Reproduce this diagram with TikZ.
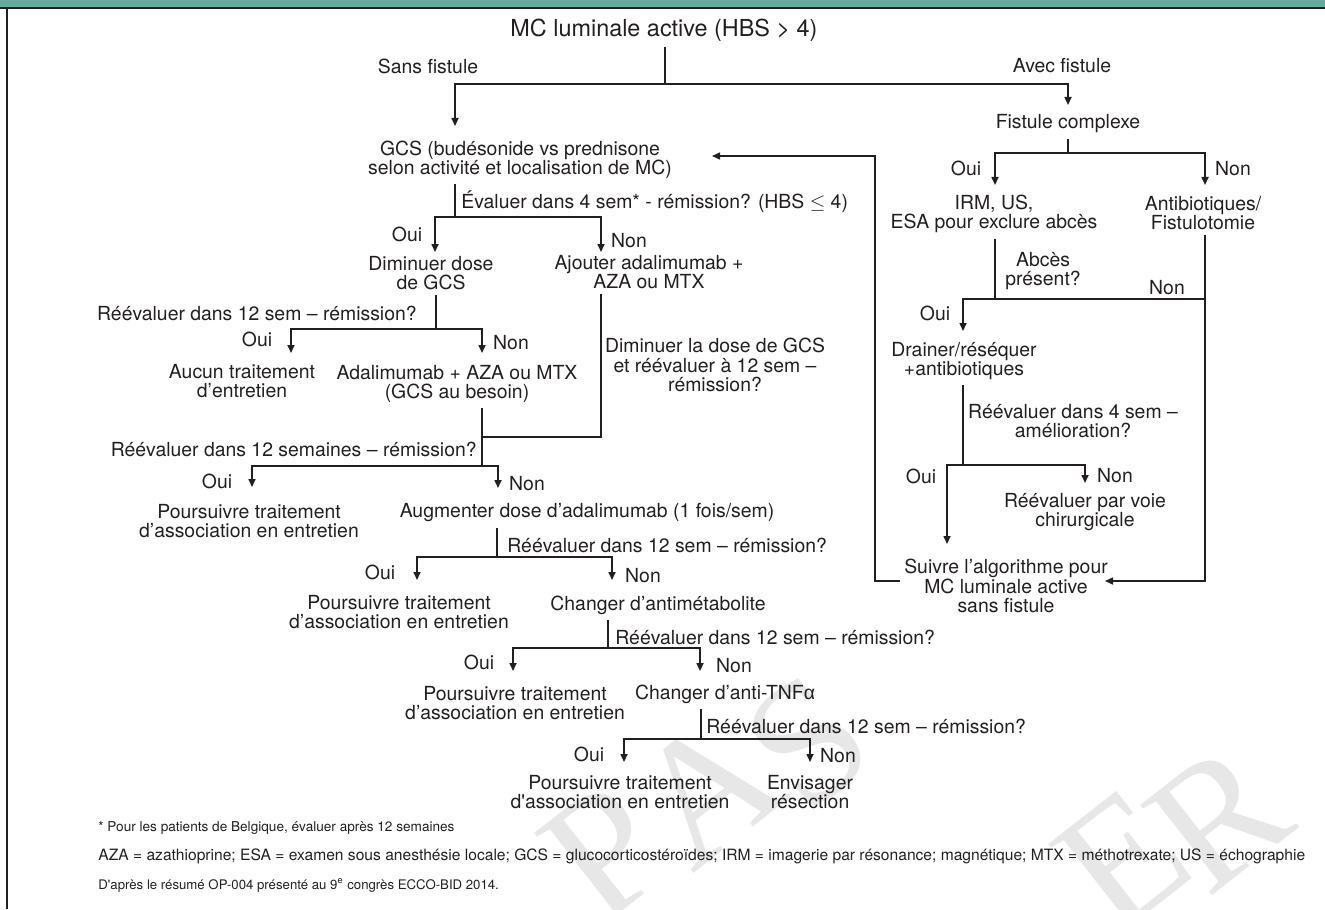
\documentclass[tikz,border=0pt]{standalone}
\usepackage{fontspec}
\setmainfont{TeX Gyre Heros}
\newfontfamily\fondfont{Liberation Serif}
\newfontfamily\grecfont{Liberation Sans}
\usetikzlibrary{arrows.meta}

\definecolor{bandeau}{HTML}{68ACA0}
\definecolor{encre}{HTML}{231F20}
\definecolor{filigrane}{HTML}{E7E7E7}

\newcommand{\txttitre}{\fontsize{11.7}{12}\selectfont}
\newcommand{\txtcorps}{\fontsize{9.7}{9.75}\selectfont}
\newcommand{\txtnote}{\fontsize{6.8}{7}\selectfont}
\newcommand{\txtfil}{\fondfont\fontsize{88}{88}\selectfont}

\begin{document}
\begin{tikzpicture}[x=0.5pt, y=-0.5pt,
	texte/.style={font=\txtcorps, text=encre, align=center, inner sep=0pt},
	lien/.style={draw=encre, line width=0.8pt},
	depart/.style={lien, shorten <=2.5pt},
	fleche/.style={lien, -{Triangle[length=4pt,width=3.5pt]}},
	fil/.style={font=\txtfil, text=filigrane, rotate=38, inner sep=0pt}]

\useasboundingbox (0,0) rectangle (1325,909);

% Filigrane
\begin{scope}
	\clip (0,0) rectangle (1325,909);
	\foreach \nom/\x/\y/\lettre in {filP/605/852/P, filA/707/790/A, filS/808/742/S, filE/1122/860/E, filR/1218/818/R}
		\node[fil] (\nom) at (\x,\y) {\lettre};
\end{scope}

% Cadre
\fill[bandeau] (0,0) rectangle (1325,7.5);
\draw[lien] (0,8) -- (1325,8);
\draw[lien] (7,8) -- (7,909);

% Tronc commun
\node[texte, font=\txttitre] (titre) at (664,30) {MC luminale active (HBS > 4)};
\node[texte] (sans) at (428,66) {Sans fistule};
\node[texte] (avec) at (1062,66) {Avec fistule};

% Branche sans fistule
\node[texte] (gcs) at (520,160) {GCS (budésonide vs prednisone\\selon activité et localisation de MC)};
\node[texte, anchor=west] (eval) at (461,202) {Évaluer dans 4 sem* - rémission? (HBS $\leq$ 4)};
\node[texte] (dimin) at (431,273) {Diminuer dose\\de GCS};
\node[texte] (ajout) at (649,272) {Ajouter adalimumab +\\AZA ou MTX};
\node[texte, anchor=east] (reev1) at (417,313) {Réévaluer dans 12 sem – rémission?};
\node[texte] (aucun) at (242,381) {Aucun traitement\\d’entretien};
\node[texte] (adal) at (457,384) {Adalimumab + AZA ou MTX\\(GCS au besoin)};
\node[texte] (dimin2) at (715,365) {Diminuer la dose de GCS\\et réévaluer à 12 sem –\\rémission?};
\node[texte, anchor=east] (reev2) at (477,449) {Réévaluer dans 12 semaines – rémission?};
\node[texte] (pours1) at (249,521) {Poursuivre traitement\\d’association en entretien};
\node[texte] (augm) at (587,513) {Augmenter dose d’adalimumab (1 fois/sem)};
\node[texte, anchor=west] (reev3) at (507,545) {Réévaluer dans 12 sem – rémission?};
\node[texte] (pours2) at (399,612) {Poursuivre traitement\\d’association en entretien};
\node[texte] (chang1) at (658,605) {Changer d’antimétabolite};
\node[texte, anchor=west] (reev4) at (615,637) {Réévaluer dans 12 sem – rémission?};
\node[texte] (pours3) at (515,703) {Poursuivre traitement\\d’association en entretien};
\node[texte] (chang2) at (725,694) {Changer d’anti-TNF{\grecfont α}};
\node[texte, anchor=west] (reev5) at (706,726) {Réévaluer dans 12 sem – rémission?};
\node[texte] (pours4) at (620,792) {Poursuivre traitement\\d\textquotesingle association en entretien};
\node[texte] (envis) at (810,792) {Envisager\\résection};

% Branche avec fistule
\node[texte] (fistc) at (1068,124) {Fistule complexe};
\node[texte] (irm) at (994,214) {IRM, US,\\ESA pour exclure abcès};
\node[texte] (antib) at (1203,213) {Antibiotiques/\\Fistulotomie};
\node[texte] (abces) at (1043,271) {Abcès\\présent?};
\node[texte] (drain) at (964,361) {Drainer/réséquer\\+antibiotiques};
\node[texte] (reevR) at (1073,421) {Réévaluer dans 4 sem –\\amélioration?};
\node[texte] (chir) at (1085,512) {Réévaluer par voie\\chirurgicale};
\node[texte] (suivre) at (1006,586) {Suivre l’algorithme pour\\MC luminale active\\sans fistule};

% Oui / Non
\foreach \nom/\x/\y/\mot in {oui1/407/234/Oui, non1/629/241/Non, oui2/257/339/Oui, non2/511/343/Non,
	oui3/217/481/Oui, non3/527/484/Non, oui4/380/572/Oui, non4/643/576/Non,
	oui5/479/662/Oui, non5/734/666/Non, oui6/589/754/Oui, non6/838/756/Non,
	ouiR1/966/168/Oui, nonR1/1233/169/Non, nonR2/1167/288/Non, ouiR2/935/313/Oui,
	ouiR3/921/476/Oui, nonR3/1115/476/Non}
	\node[texte] (\nom) at (\x,\y) {\mot};

% Jonctions et pointes
\foreach \nom/\x/\y in {j0/665/84, pgcs/455/126, pfc/1068/105,
	j1/455/217, pdim/435/252, paj/601/252,
	j2/436/329, pauc/291/353, pada/482/353, jm/482/437,
	j3/482/466, ppo1/252/487, paug/498/488,
	j4/497/557, ppo2/417/580, pch1/612/580,
	j5/608/648, ppo3/513/671, pch2/700/671,
	j6/701/739, ppo4/624/762, penv/810/762,
	jR1/1068/153, pirm/995/185, pant/1205/185,
	jR2/995/299, jR2b/1205/299, pdra/963/331,
	jR3/963/465, psui/947/544, pchi/1085/483,
	psuid/1105/581, jB/875/581, pretour/712/156}
	\coordinate (\nom) at (\x,\y);

% Connecteurs sans fistule
\draw[depart] (titre.south -| j0) -- (j0);
\draw[fleche] (j0) -| (pgcs);
\draw[fleche] (j0) -| (pfc);
\draw[depart] (gcs.south -| j1) -- (j1);
\draw[fleche] (j1) -| (pdim);
\draw[fleche] (j1) -| (paj);
\draw[depart] (dimin.south -| j2) -- (j2);
\draw[fleche] (j2) -| (pauc);
\draw[fleche] (j2) -| (pada);
\draw[depart] (ajout.south -| paj) |- (jm);
\draw[depart] (adal.south -| j3) -- (j3);
\draw[fleche] (j3) -| (ppo1);
\draw[fleche] (j3) -| (paug);
\draw[depart] (augm.south -| j4) -- (j4);
\draw[fleche] (j4) -| (ppo2);
\draw[fleche] (j4) -| (pch1);
\draw[depart] (chang1.south -| j5) -- (j5);
\draw[fleche] (j5) -| (ppo3);
\draw[fleche] (j5) -| (pch2);
\draw[depart] (chang2.south -| j6) -- (j6);
\draw[fleche] (j6) -| (ppo4);
\draw[fleche] (j6) -| (penv);

% Connecteurs avec fistule
\draw[depart] (fistc.south -| jR1) -- (jR1);
\draw[fleche] (jR1) -| (pirm);
\draw[fleche] (jR1) -| (pant);
\draw[depart] (irm.south -| jR2) -- (jR2);
\draw[fleche, shorten <=2.5pt] (antib.south -| jR2b) |- (psuid);
\draw[fleche] (jR2b) -| (pdra);
\draw[depart] (drain.south -| jR3) -- (jR3);
\draw[fleche] (jR3) -| (psui);
\draw[fleche] (jR3) -| (pchi);
\draw[fleche, shorten <=2pt] (suivre.west |- jB) -- (jB) |- (pretour);

% Notes
\node[texte, font=\txtnote, anchor=west] (note) at (98,828) {* Pour les patients de Belgique, évaluer après 12 semaines};
\node[texte, font=\fontsize{7.8}{8}\selectfont, anchor=west] (abrev) at (98,856) {AZA = azathioprine; ESA = examen sous anesthésie locale; GCS = glucocorticostéroïdes; IRM = imagerie par résonance; magnétique; MTX = méthotrexate; US = échographie};
\node[texte, font=\fontsize{6.6}{7}\selectfont, anchor=west] (source) at (98,885) {D\textquotesingle après le résumé OP-004 présenté au 9\textsuperscript{e} congrès ECCO-BID 2014.};
\end{tikzpicture}
\end{document}
